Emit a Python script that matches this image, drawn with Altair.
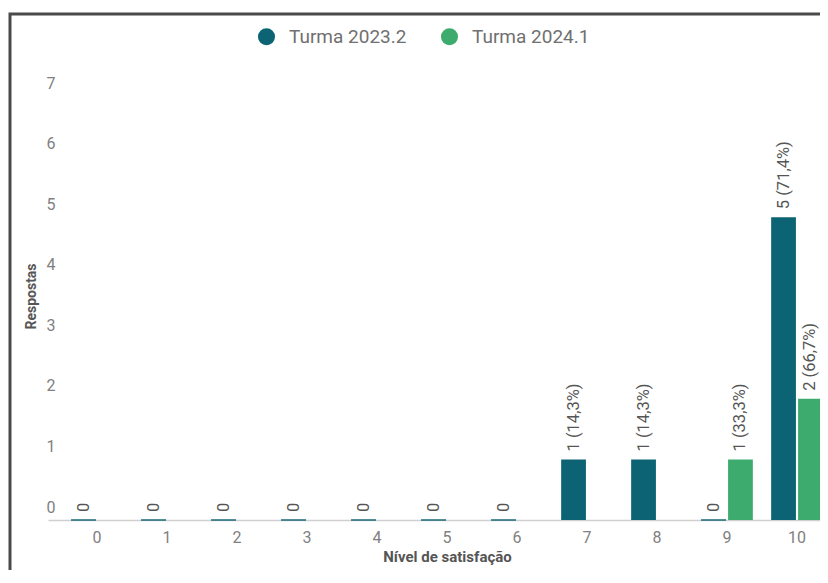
import altair as alt
import pandas as pd

categorias = list(range(11))
series = ["Turma 2023.2", "Turma 2024.1"]
turma_2023_2 = [0, 0, 0, 0, 0, 0, 0, 1, 1, 0, 5]
turma_2024_1 = [0, 0, 0, 0, 0, 0, 0, 0, 0, 1, 2]
cores = ["#0b6374", "#3dab6e"]

rows = []
for nome, vals in zip(series, [turma_2023_2, turma_2024_1]):
    total = sum(vals)
    for c, v in zip(categorias, vals):
        if v > 0:
            lab = f"{v} ({100 * v / total:.1f}%)".replace(".", ",")
        else:
            lab = "0"
        show = v > 0 or nome == "Turma 2023.2"
        rows.append({"cat": c, "serie": nome, "valor": v, "rotulo": lab, "show": show})
df = pd.DataFrame(rows)

FONT = "Roboto"

x_enc = alt.X(
    "cat:O",
    sort=categorias,
    scale=alt.Scale(paddingInner=0, paddingOuter=0.2, range=[0, 798]),
    axis=alt.Axis(
        title="Nível de satisfação", labelAngle=0, ticks=False, domainColor="#d0d0d0",
        domainWidth=1.5, labelColor="#808080", labelFontSize=16, labelPadding=9,
        labelFont=FONT, titleFont=FONT, titleFontSize=15, titleFontWeight="bold",
        titleColor="#555555", titlePadding=4, grid=False,
    ),
)
xo_enc = alt.XOffset("serie:N", sort=series, scale=alt.Scale(paddingInner=0.08, paddingOuter=0.34))
y_enc = alt.Y(
    "valor:Q",
    scale=alt.Scale(domain=[0, 7], nice=False),
    axis=alt.Axis(
        title="Respostas", values=list(range(8)), grid=False, domain=False, ticks=False,
        labelColor="#808080", labelFontSize=16, labelFont=FONT, labelOffset=-13,
        labelPadding=2, offset=-9, titleFont=FONT, titleFontSize=14,
        titleFontWeight="bold", titleColor="#555555", titlePadding=8, titleY=200,
    ),
)
color_enc = alt.Color(
    "serie:N", sort=series, scale=alt.Scale(domain=series, range=cores),
    legend=alt.Legend(
        title=None, orient="none", legendX=209, legendY=-69, direction="horizontal",
        symbolType="circle", symbolSize=290, symbolStrokeWidth=0, symbolOpacity=1,
        labelFont=FONT, labelFontSize=19, labelColor="#707070", labelOffset=13,
        columnPadding=33, padding=0,
    ),
)

base = alt.Chart(df).transform_filter("datum.show")

bars = base.mark_bar().encode(x=x_enc, xOffset=xo_enc, y=y_enc, color=color_enc)
stubs = base.transform_filter("datum.valor == 0").mark_tick(
    orient="horizontal", thickness=2, size=25
).encode(x=x_enc, xOffset=xo_enc, y=y_enc, color=color_enc)
labels = base.mark_text(
    angle=270, align="left", baseline="middle", dx=8, font=FONT, fontSize=16.5, color="#555555"
).encode(x=x_enc, xOffset=xo_enc, y=y_enc, text="rotulo:N")

frame_df = pd.DataFrame({"k": [1]})
frame = alt.Chart(frame_df).mark_rect(
    fill="transparent", stroke="#4a4a4a", strokeWidth=3
).encode(x=alt.value(-38), x2=alt.value(1000), y=alt.value(-82), y2=alt.value(1000))

chart = alt.layer(frame, bars, stubs, labels).properties(
    width=772, height=424,
    autosize=alt.AutoSizeParams(type="none"),
    padding={"left": 40, "top": 88, "right": 0, "bottom": 50},
    background="white",
).configure_view(stroke=None)

chart.save("out.html", embed_options={"renderer": "svg", "actions": False})
